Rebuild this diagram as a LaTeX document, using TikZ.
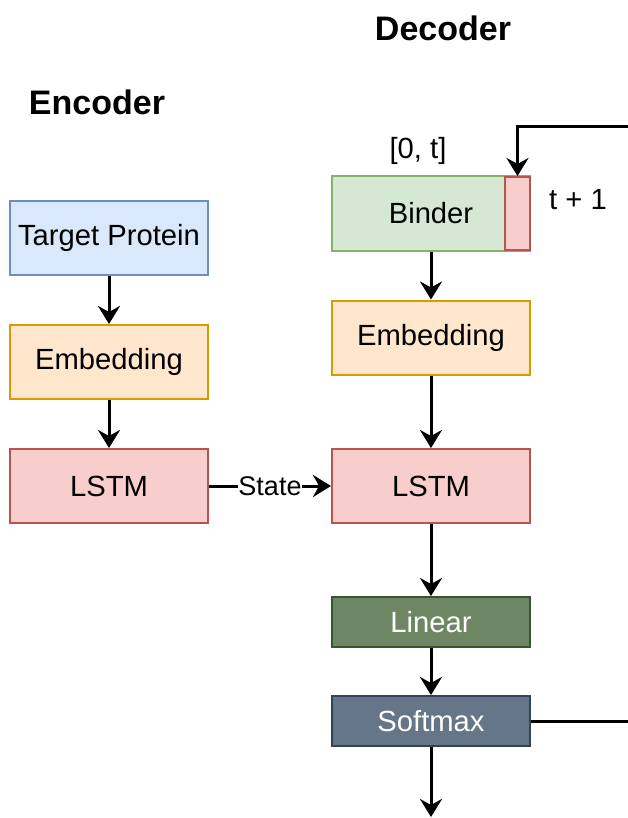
\documentclass[tikz,border=0pt]{standalone}
\usepackage{fontspec}
\setmainfont{Liberation Sans}
\usetikzlibrary{arrows.meta}
\definecolor{bluef}{HTML}{DAE8FC}\definecolor{blued}{HTML}{6C8EBF}
\definecolor{orangef}{HTML}{FFE6CC}\definecolor{oranged}{HTML}{D79B00}
\definecolor{redf}{HTML}{F8CECC}\definecolor{redd}{HTML}{B85450}
\definecolor{greenf}{HTML}{D5E8D4}\definecolor{greend}{HTML}{82B366}
\definecolor{dgreenf}{HTML}{6D8764}\definecolor{dgreend}{HTML}{3A5431}
\definecolor{slatef}{HTML}{647687}\definecolor{slated}{HTML}{314354}
\begin{document}
\begin{tikzpicture}[x=0.5pt,y=-0.5pt,
  box/.style={draw, line width=1pt, inner sep=0pt, minimum width=99pt, minimum height=37pt, font=\fontsize{14.6}{17}\selectfont},
  sbox/.style={box, minimum height=25pt},
  conn/.style={line width=1.5pt, -{Stealth[length=9pt,width=11pt,inset=3pt]}},
  plain/.style={line width=1.5pt},
  head/.style={font=\fontsize{17}{20}\selectfont\bfseries},
  lbl/.style={font=\fontsize{14.6}{17}\selectfont}]
\useasboundingbox (0,0) rectangle (627,818);
% Encoder
\node[head] (enc) at (97,102) {Encoder};
\node[box, fill=bluef, draw=blued] (tp) at (109,238) {Target Protein};
\node[box, fill=orangef, draw=oranged] (emb1) at (109,362) {Embedding};
\node[box, fill=redf, draw=redd] (lstm1) at (109,486) {LSTM};
% Decoder
\node[head] (dec) at (443,28) {Decoder};
\node[box, fill=greenf, draw=greend] (binder) at (431,213.5) {Binder};
\node[draw=redd, fill=redf, line width=1pt, inner sep=0pt, minimum width=12.5pt, minimum height=36.5pt] (next) at (517.5,213.5) {};
\node[lbl] (zt) at (418,151) {[0, t]};
\node[lbl] (tp1) at (578,200) {t + 1};
\node[box, fill=orangef, draw=oranged] (emb2) at (431,337.5) {Embedding};
\node[box, fill=redf, draw=redd] (lstm2) at (431,486) {LSTM};
\node[sbox, fill=dgreenf, draw=dgreend, text=white] (lin) at (431,622) {Linear};
\node[sbox, fill=slatef, draw=slated, text=white] (soft) at (431,721) {Softmax};
\coordinate (out) at (431,817);
\coordinate (loopA) at (628,721);
\coordinate (loopB) at (628,127);
\coordinate (loopC) at (517.5,127);
% connectors
\draw[conn] (tp) -- (emb1);
\draw[conn] (emb1) -- (lstm1);
\draw[conn] (lstm1) -- node[fill=white, inner sep=0pt, font=\fontsize{13.5}{15}\selectfont] (st) {State} (lstm2);
\draw[conn] (binder.south) -- (emb2);
\draw[conn] (emb2) -- (lstm2);
\draw[conn] (lstm2) -- (lin);
\draw[conn] (lin) -- (soft);
\draw[conn] (soft) -- (out);
\draw[plain] (soft.east) -- (loopA);
\draw[conn] (loopB) -- (loopC) -- (next.north);
\end{tikzpicture}
\end{document}
